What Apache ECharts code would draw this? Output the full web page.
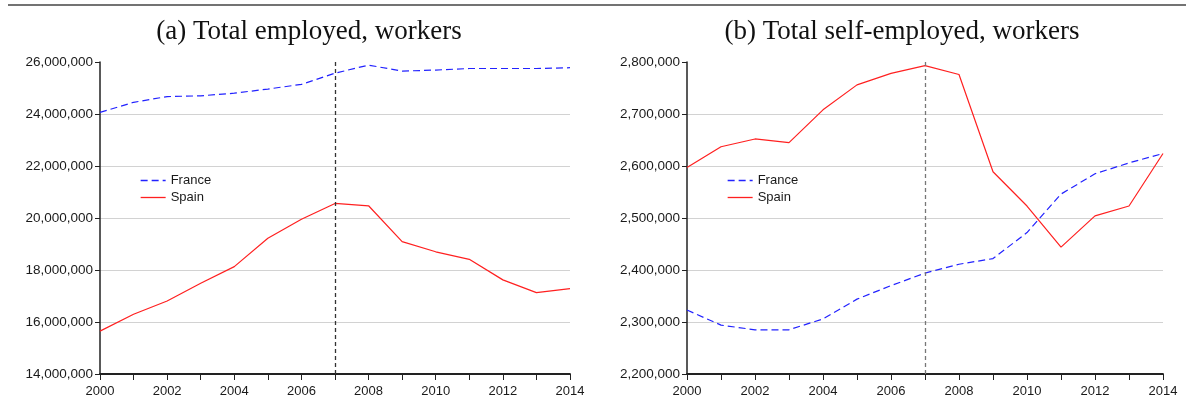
<!DOCTYPE html>
<html>
<head>
<meta charset="utf-8">
<script src="https://cdn.jsdelivr.net/npm/echarts@6/dist/echarts.min.js"></script>
<style>
html,body{margin:0;padding:0;background:#fff;}
#c{width:1194px;height:408px;}
</style>
</head>
<body>
<div id="c"></div>
<script>
var years = ['2000','2001','2002','2003','2004','2005','2006','2007','2008','2009','2010','2011','2012','2013','2014'];
var titleA = '(a) Total employed, workers';
var titleB = '(b) Total self-employed, workers';
var franceEmployed = [24060000,24450000,24670000,24700000,24800000,24960000,25140000,25570000,25880000,25650000,25690000,25750000,25750000,25750000,25780000];
var spainEmployed  = [15650000,16300000,16810000,17490000,18130000,19220000,19950000,20560000,20470000,19090000,18700000,18410000,17620000,17130000,17280000];
var franceSelf = [2323000,2294000,2285000,2285000,2306000,2344000,2370000,2394000,2411000,2422000,2472000,2546000,2585000,2606000,2624000];
var spainSelf  = [2597000,2637000,2652000,2645000,2708000,2756000,2778000,2793000,2776000,2589000,2523000,2444000,2504000,2523000,2624000];
var breakYear = '2007';

var fmt = function(v){ return Number(v).toLocaleString('en-US'); };
var txt = '#1a1a1a';
function xAxis(gi){
  return {
    type:'category', gridIndex:gi, data:years, boundaryGap:false,
    axisLine:{show:true, lineStyle:{color:'#222', width:1.8}},
    axisTick:{show:true, interval:0, length:6, inside:false, lineStyle:{color:'#222'}},
    axisLabel:{interval:1, color:txt, fontSize:13, fontFamily:'Liberation Sans', margin:11},
    splitLine:{show:false}
  };
}
function yAxis(gi, min, max, step){
  return {
    type:'value', gridIndex:gi, min:min, max:max, interval:step,
    axisLine:{show:true, lineStyle:{color:'#222', width:1.5}},
    axisTick:{show:true, length:5, lineStyle:{color:'#222'}},
    axisLabel:{formatter:fmt, color:txt, fontSize:13.5, fontFamily:'Liberation Sans', margin:7},
    splitLine:{show:true, showMaxLine:false, showMinLine:false, lineStyle:{color:'#d2d2d2', width:1}}
  };
}
function series(name, data, gi, color, dashed, mark, markColor){
  var s = {
    name:name, type:'line', xAxisIndex:gi, yAxisIndex:gi, data:data,
    symbol:'none', showSymbol:false, silent:true, animation:false,
    lineStyle:{color:color, width:1.2, type: dashed ? [7,4] : 'solid'},
    itemStyle:{color:color}
  };
  if (mark) {
    s.markLine = {
      silent:true, symbol:['none','none'], label:{show:false},
      lineStyle:{color:markColor, type:[4,3], width:1.3},
      data:[{xAxis:breakYear}]
    };
  }
  return s;
}
function legend(left, names){
  return {
    left:left, top:174, padding:0, orient:'vertical', itemWidth:25, itemHeight:10, itemGap:4,
    itemStyle:{opacity:0},
    lineStyle:{width:1.3},
    textStyle:{fontSize:13, fontFamily:'Liberation Sans', color:txt},
    formatter:function(n){return n.trim();},
    data:names, selectedMode:false
  };
}
var chart = echarts.init(document.getElementById('c'), null, {renderer:'canvas'});
chart.setOption({
  animation:false,
  backgroundColor:'#fff',
  title:[
    {text:titleA, left:304, top:13, textAlign:'center', textStyle:{fontFamily:'Liberation Serif', fontSize:27, fontWeight:'normal', color:'#111'}},
    {text:titleB, left:897, top:13, textAlign:'center', textStyle:{fontFamily:'Liberation Serif', fontSize:27, fontWeight:'normal', color:'#111'}}
  ],
  graphic:[{type:'line', shape:{x1:8,y1:5,x2:1186,y2:5}, style:{stroke:'#444', lineWidth:1.5}}],
  grid:[
    {left:100, right:624, top:62, bottom:34},
    {left:687, right:31, top:62, bottom:34}
  ],
  legend:[legend(140, ['France','Spain']), legend(727, ['France ','Spain '])],
  xAxis:[xAxis(0), xAxis(1)],
  yAxis:[yAxis(0,14000000,26000000,2000000), yAxis(1,2200000,2800000,100000)],
  series:[
    series('France', franceEmployed, 0, '#2222ff', true, true, '#333'),
    series('Spain', spainEmployed, 0, '#ff2020', false),
    series('France ', franceSelf, 1, '#2222ff', true, true, '#777'),
    series('Spain ', spainSelf, 1, '#ff2020', false)
  ]
});
</script>
</body>
</html>
